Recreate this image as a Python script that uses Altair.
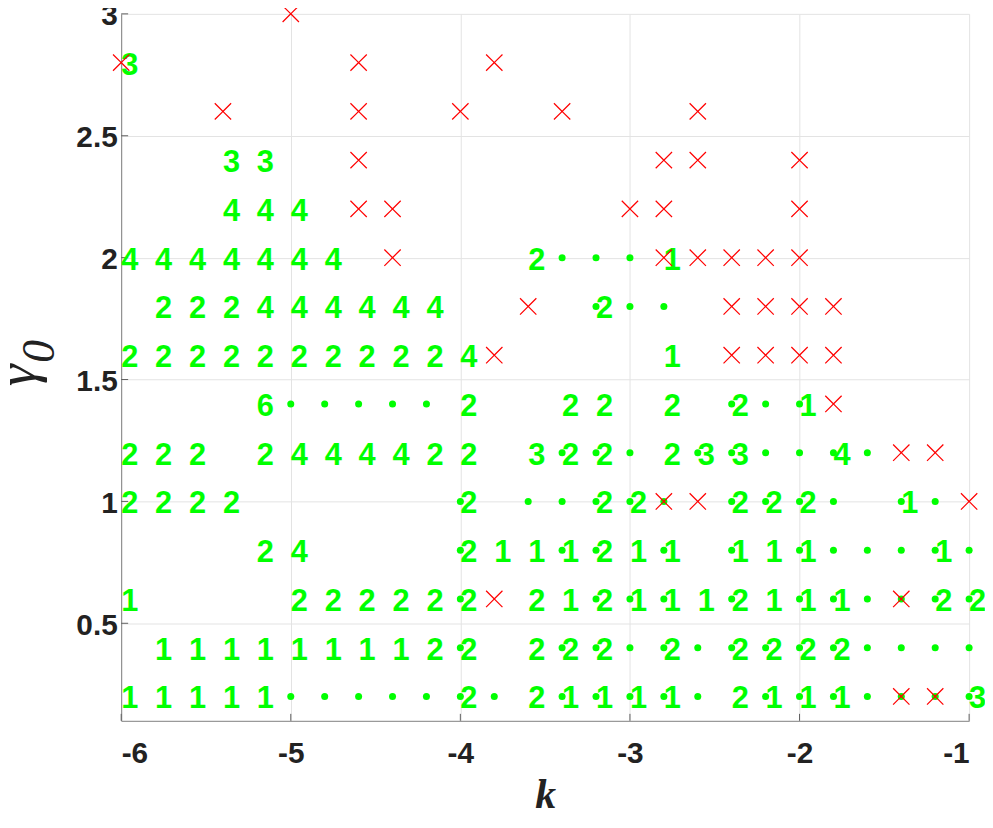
import altair as alt
import pandas as pd

# k grid ticks and gamma ticks
X_TICKS = [-6, -5, -4, -3, -2, -1]
Y_TICKS = [0.5, 1.0, 1.5, 2.0, 2.5, 3.0]

# Each row: gamma value -> {k: code}; code: "." green dot, "x" red cross, digits = green label
ROW_300 = {-5.0: "x"}
ROW_280 = {-6.0: "x3", -4.6: "x", -3.8: "x"}
ROW_260 = {-5.4: "x", -4.6: "x", -4.0: "x", -3.4: "x", -2.6: "x"}
ROW_240 = {-5.4: "3", -5.2: "3", -4.6: "x", -2.8: "x", -2.6: "x", -2.0: "x"}
ROW_220 = {-5.4: "4", -5.2: "4", -5.0: "4", -4.6: "x", -4.4: "x", -3.0: "x", -2.8: "x", -2.0: "x"}
ROW_200 = {-6.0: "4", -5.8: "4", -5.6: "4", -5.4: "4", -5.2: "4", -5.0: "4", -4.8: "4",
           -4.4: "x", -3.6: "2", -3.4: ".", -3.2: ".", -3.0: ".", -2.8: "x1", -2.6: "x",
           -2.4: "x", -2.2: "x", -2.0: "x"}
ROW_180 = {-5.8: "2", -5.6: "2", -5.4: "2", -5.2: "4", -5.0: "4", -4.8: "4", -4.6: "4",
           -4.4: "4", -4.2: "4", -3.6: "x", -3.2: ".2", -3.0: ".", -2.8: ".", -2.4: "x",
           -2.2: "x", -2.0: "x", -1.8: "x"}
ROW_160 = {-6.0: "2", -5.8: "2", -5.6: "2", -5.4: "2", -5.2: "2", -5.0: "2", -4.8: "2",
           -4.6: "2", -4.4: "2", -4.2: "2", -4.0: "4", -3.8: "x", -2.8: "1", -2.4: "x",
           -2.2: "x", -2.0: "x", -1.8: "x"}
ROW_140 = {-5.2: "6", -5.0: ".", -4.8: ".", -4.6: ".", -4.4: ".", -4.2: ".", -4.0: "2",
           -3.4: "2", -3.2: "2", -2.8: "2", -2.4: ".2", -2.2: ".", -2.0: ".1", -1.8: "x"}
ROW_120 = {-6.0: "2", -5.8: "2", -5.6: "2", -5.2: "2", -5.0: "4", -4.8: "4", -4.6: "4",
           -4.4: "4", -4.2: "2", -4.0: "2", -3.6: "3", -3.4: ".2", -3.2: ".2", -3.0: ".",
           -2.8: "2", -2.6: ".3", -2.4: ".3", -2.2: ".", -2.0: ".", -1.8: ".4", -1.6: ".",
           -1.4: "x", -1.2: "x"}
ROW_100 = {-6.0: "2", -5.8: "2", -5.6: "2", -5.4: "2", -4.0: ".2", -3.6: ".", -3.4: ".",
           -3.2: ".2", -3.0: ".2", -2.8: ".x", -2.6: "x", -2.4: ".2", -2.2: ".2", -2.0: ".2",
           -1.8: ".", -1.4: ".1", -1.2: ".", -1.0: "x"}
ROW_080 = {-5.2: "2", -5.0: "4", -4.0: ".2", -3.8: "1", -3.6: "1", -3.4: ".1", -3.2: ".2",
           -3.0: "1", -2.8: ".1", -2.4: ".1", -2.2: "1", -2.0: ".1", -1.8: ".", -1.6: ".",
           -1.4: ".", -1.2: ".1", -1.0: "."}
ROW_060 = {-6.0: "1", -5.0: "2", -4.8: "2", -4.6: "2", -4.4: "2", -4.2: "2", -4.0: ".2",
           -3.8: "x", -3.6: "2", -3.4: "1", -3.2: ".2", -3.0: ".1", -2.8: ".1", -2.6: "1",
           -2.4: ".2", -2.2: "1", -2.0: ".1", -1.8: ".1", -1.6: ".", -1.4: ".x", -1.2: ".2",
           -1.0: ".2"}
ROW_040 = {-5.8: "1", -5.6: "1", -5.4: "1", -5.2: "1", -5.0: "1", -4.8: "1", -4.6: "1",
           -4.4: "1", -4.2: "2", -4.0: ".2", -3.6: "2", -3.4: ".2", -3.2: ".2", -3.0: ".",
           -2.8: ".2", -2.6: ".", -2.4: ".2", -2.2: ".2", -2.0: ".2", -1.8: ".2", -1.6: ".",
           -1.4: ".", -1.2: ".", -1.0: "."}
ROW_020 = {-6.0: "1", -5.8: "1", -5.6: "1", -5.4: "1", -5.2: "1", -5.0: ".", -4.8: ".",
           -4.6: ".", -4.4: ".", -4.2: ".", -4.0: ".2", -3.8: ".", -3.6: "2", -3.4: ".1",
           -3.2: ".1", -3.0: ".1", -2.8: ".1", -2.6: ".", -2.4: "2", -2.2: ".1", -2.0: ".1",
           -1.8: ".1", -1.6: ".", -1.4: ".x", -1.2: ".x", -1.0: ".3"}

ROWS = {3.0: ROW_300, 2.8: ROW_280, 2.6: ROW_260, 2.4: ROW_240, 2.2: ROW_220,
        2.0: ROW_200, 1.8: ROW_180, 1.6: ROW_160, 1.4: ROW_140, 1.2: ROW_120,
        1.0: ROW_100, 0.8: ROW_080, 0.6: ROW_060, 0.4: ROW_040, 0.2: ROW_020}

dot_recs, cross_recs, text_recs = [], [], []
for g, row in ROWS.items():
    for k, code in row.items():
        if "." in code:
            dot_recs.append({"k": k, "g": g})
        if "x" in code:
            cross_recs.append({"k": k, "g": g})
        digits = "".join(c for c in code if c.isdigit())
        if digits:
            text_recs.append({"k": k, "g": g, "label": digits})

dots = pd.DataFrame(dot_recs)
crosses = pd.DataFrame(cross_recs)
texts = pd.DataFrame(text_recs)
xticks_df = pd.DataFrame({"k": X_TICKS})
yticks_df = pd.DataFrame({"g": Y_TICKS})

W, H = 854, 712
GREEN = "#00ff00"
RED = "#ff0000"
LABEL_COLOR = "#222222"

x_scale = alt.Scale(domain=[-6, -1], nice=False, zero=False)
y_scale = alt.Scale(domain=[0.1, 3.0], nice=False, zero=False)

x_axis = alt.Axis(values=X_TICKS, labelExpr="'' + datum.value", ticks=False, tickSize=0,
                  grid=True, gridColor="#e3e3e3", gridWidth=1,
                  domainColor="#808080", domainWidth=1,
                  labelFont="Liberation Sans", labelFontWeight="bold", labelFontSize=30,
                  labelColor=LABEL_COLOR, labelPadding=18,
                  title="k", titleFont="Liberation Serif", titleFontStyle="italic",
                  titleFontWeight="bold", titleFontSize=42, titleColor=LABEL_COLOR,
                  titlePadding=6)
y_axis = alt.Axis(values=Y_TICKS, labelExpr="'' + datum.value", ticks=False, tickSize=0,
                  grid=True, gridColor="#e3e3e3", gridWidth=1,
                  domainColor="#808080", domainWidth=1,
                  labelFont="Liberation Sans", labelFontWeight="bold", labelFontSize=30,
                  labelColor=LABEL_COLOR, labelPadding=4, labelOffset=2, title="")

X = alt.X("k:Q", scale=x_scale, axis=x_axis)
Y = alt.Y("g:Q", scale=y_scale, axis=y_axis)

xtick_layer = alt.Chart(xticks_df).mark_rule(color="#606060", strokeWidth=1).encode(
    x=X, y=alt.value(H), y2=alt.value(H - 7))
ytick_layer = alt.Chart(yticks_df).mark_rule(color="#606060", strokeWidth=1).encode(
    y=Y, x=alt.value(0), x2=alt.value(7))

dot_layer = alt.Chart(dots).mark_circle(size=50, color=GREEN, opacity=1).encode(x=X, y=Y)

text_layer = alt.Chart(texts).mark_text(
    align="left", baseline="middle", dy=3, font="Liberation Sans", fontWeight="bold",
    fontSize=31, color=GREEN).encode(x=X, y=Y, text="label:N")

# thin X drawn as a filled outline (unit square -1..1)
X_SHAPE = ("M-1,-0.9L-0.9,-1L0,-0.1L0.9,-1L1,-0.9L0.1,0L1,0.9L0.9,1L0,0.1"
           "L-0.9,1L-1,0.9L-0.1,0Z")
cross_layer = alt.Chart(crosses).mark_point(
    shape=X_SHAPE, size=300, filled=True, fill=RED, color=RED, strokeWidth=0,
    opacity=1).encode(x=X, y=Y)

gamma_df = pd.DataFrame({"t": ["γ"]})
zero_df = pd.DataFrame({"t": ["0"]})
gamma_layer = alt.Chart(gamma_df).mark_text(
    angle=270, align="center", baseline="middle", font="Liberation Serif",
    fontStyle="italic", fontSize=56, color=LABEL_COLOR).encode(
    x=alt.value(-104), y=alt.value(364), text="t:N")
zero_layer = alt.Chart(zero_df).mark_text(
    angle=270, align="center", baseline="middle", font="Liberation Serif",
    fontStyle="italic", fontSize=46, color=LABEL_COLOR).encode(
    x=alt.value(-82), y=alt.value(340), text="t:N")

chart = alt.layer(
    xtick_layer, ytick_layer, dot_layer, text_layer, cross_layer, gamma_layer, zero_layer
).properties(
    width=W, height=H,
    autosize=alt.AutoSizeParams(type="none"),
    padding={"left": 114, "top": 3, "right": 16, "bottom": 97},
).configure_view(strokeWidth=0)

chart.save("out.html", embed_options={"renderer": "svg", "actions": False})
